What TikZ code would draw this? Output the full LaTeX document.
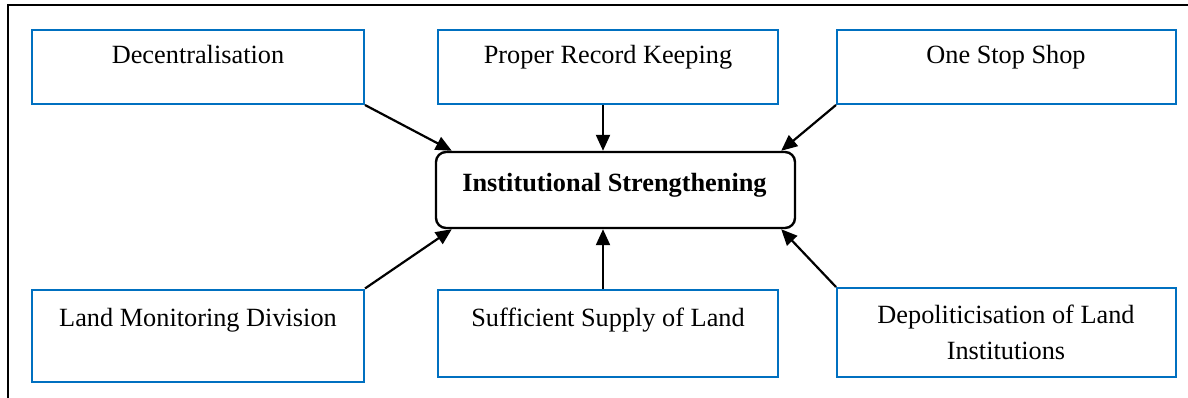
\documentclass[tikz,border=0pt]{standalone}
\usepackage{fontspec}
\setmainfont{Liberation Serif}
\usetikzlibrary{arrows.meta,calc}
\definecolor{boxblue}{RGB}{0,112,192}
\tikzset{
  bluebox/.style={draw=boxblue, line width=2pt, inner sep=0pt, fill=white},
  centerbox/.style={draw=black, line width=2.4pt, rounded corners=10pt, inner sep=0pt},
  lbl/.style={inner sep=0pt, anchor=base, font=\fontsize{26.3}{36}\selectfont, align=center},
  arr/.style={line width=2.2pt, -{Triangle[length=16pt,width=14pt]}},
  frameline/.style={line width=2pt}
}
\begin{document}
\begin{tikzpicture}[x=1pt,y=-1pt]
\useasboundingbox (0,0) rectangle (1188,398);
\draw[frameline] (8,398) -- (8,5) -- (1188,5);
% boxes
\node[bluebox, minimum width=332pt, minimum height=74pt] (dec) at (198,67) {};
\node[bluebox, minimum width=340pt, minimum height=74pt] (prk) at (608,67) {};
\node[bluebox, minimum width=339pt, minimum height=74pt] (oss) at (1006.5,67) {};
\node[bluebox, minimum width=332pt, minimum height=92pt] (lmd) at (198,335.5) {};
\node[bluebox, minimum width=340pt, minimum height=87pt] (ssl) at (608,333.5) {};
\node[bluebox, minimum width=339pt, minimum height=89pt] (dep) at (1006.5,332.5) {};
\node[centerbox, minimum width=359pt, minimum height=76pt] (cen) at (615.5,190) {};
% texts
\node[lbl] (decT) at (198,64) {Decentralisation};
\node[lbl] (prkT) at (608,64) {Proper Record Keeping};
\node[lbl] (ossT) at (1006,64) {One Stop Shop};
\node[lbl] (lmdT) at (198,326) {Land Monitoring Division};
\node[lbl] (sslT) at (608,326) {Sufficient Supply of Land};
\node[lbl, anchor=north] (depT) at (1006,305) {Depoliticisation of Land\\Institutions};
\node[lbl, font=\fontsize{26.3}{36}\selectfont\bfseries] (cenT) at (614.5,192) {Institutional Strengthening};
% arrows
\draw[arr] (dec.south east) -- ([xshift=17pt]cen.north west);
\draw[arr] ([xshift=-5pt]prk.south) -- ([xshift=-5pt]prk.south |- cen.north);
\draw[arr] (oss.south west) -- ([xshift=-15pt]cen.north east);
\draw[arr] (lmd.north east) -- ([xshift=17pt]cen.south west);
\draw[arr] ([xshift=-5pt]ssl.north) -- ([xshift=-5pt]ssl.north |- cen.south);
\draw[arr] (dep.north west) -- ([xshift=-15pt]cen.south east);
\end{tikzpicture}
\end{document}
